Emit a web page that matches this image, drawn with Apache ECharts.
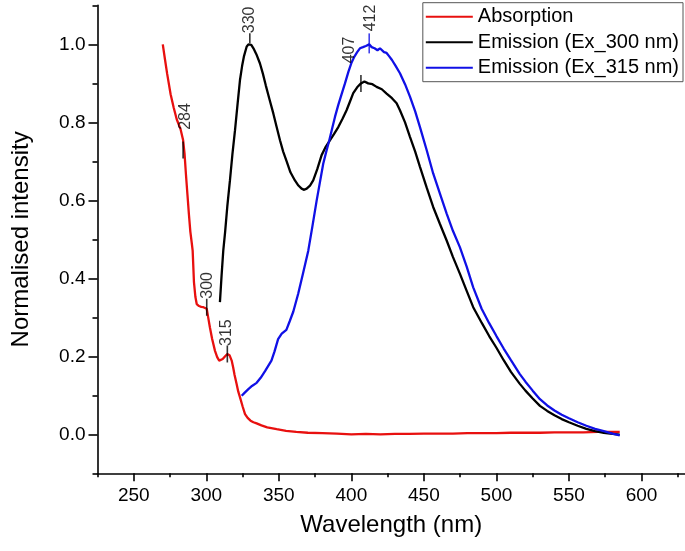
<!DOCTYPE html>
<html>
<head>
<meta charset="utf-8">
<script src="https://cdn.jsdelivr.net/npm/echarts@6/dist/echarts.min.js"></script>
<style>
html,body{margin:0;padding:0;background:#fff;}
#chart{width:685px;height:551px;}
</style>
</head>
<body>
<div id="chart"></div>
<script>
// ---- data ----
var absX = [270, 271.5, 273, 275.4, 277.5, 279.6, 282.3, 284, 285, 286, 287, 288, 289, 290, 290.6, 291.5, 292.5, 293.4, 295, 296.5, 298, 299.3, 300.3, 301.3, 302.5, 304, 306, 307.5, 308.9, 310, 311.3, 313, 314.5, 316, 317.5, 318.5, 319.5, 320.9, 322, 323.3, 325, 326.7, 328.5, 330.5, 332.5, 334.7, 338, 342, 348.5, 355, 362, 370, 380, 390, 400, 410, 420, 430, 440, 450, 460, 470, 480, 490, 500, 510, 520, 530, 540, 550, 560, 570, 580, 585];
var absY = [1.0, 0.962, 0.925, 0.872, 0.838, 0.808, 0.782, 0.755, 0.72, 0.665, 0.615, 0.565, 0.52, 0.49, 0.471, 0.39, 0.352, 0.334, 0.329, 0.327, 0.326, 0.325, 0.322, 0.3, 0.274, 0.245, 0.214, 0.198, 0.189, 0.188, 0.193, 0.2, 0.206, 0.203, 0.189, 0.172, 0.152, 0.129, 0.11, 0.094, 0.072, 0.052, 0.042, 0.035, 0.031, 0.028, 0.023, 0.018, 0.013, 0.009, 0.006, 0.004, 0.003, 0.002, 0.0, 0.001, 0.0, 0.001, 0.001, 0.002, 0.002, 0.002, 0.003, 0.003, 0.003, 0.004, 0.004, 0.004, 0.005, 0.005, 0.005, 0.006, 0.006, 0.006];

var em300X = [309.4, 310.5, 311.7, 313, 314.5, 316.3, 318, 319.8, 321.5, 323.2, 324.7, 326, 327.8, 329, 330, 331, 332.5, 334.5, 337, 339, 341, 343.5, 346.2, 348.5, 350.8, 353, 355.4, 358, 361.1, 363.5, 365.7, 367.5, 369.2, 371.5, 373.7, 376.5, 379.5, 382, 385.2, 388, 391, 394, 396.7, 399, 401.3, 404, 406.6, 409, 411.6, 414.5, 417.4, 421, 424.3, 428, 431.2, 433.5, 437, 440.4, 444, 447.3, 452, 456.4, 461, 465.7, 470, 474.8, 479.5, 484, 490, 495, 500, 505, 510, 516, 520, 525, 530, 535, 540, 545, 550, 556, 562, 568, 574, 580, 585];
var em300Y = [0.339, 0.405, 0.471, 0.52, 0.585, 0.651, 0.718, 0.78, 0.845, 0.908, 0.945, 0.97, 0.994, 1.0, 1.003, 0.999, 0.99, 0.975, 0.951, 0.925, 0.895, 0.86, 0.823, 0.788, 0.754, 0.725, 0.70, 0.672, 0.651, 0.638, 0.63, 0.627, 0.63, 0.638, 0.651, 0.68, 0.716, 0.735, 0.754, 0.77, 0.788, 0.81, 0.831, 0.853, 0.875, 0.89, 0.90, 0.905, 0.90, 0.898, 0.891, 0.885, 0.874, 0.862, 0.849, 0.831, 0.80, 0.763, 0.725, 0.686, 0.632, 0.583, 0.54, 0.497, 0.455, 0.412, 0.368, 0.326, 0.285, 0.252, 0.222, 0.19, 0.16, 0.13, 0.112, 0.092, 0.073, 0.06, 0.049, 0.039, 0.031, 0.022, 0.014, 0.008, 0.004, 0.001, -0.001];

var em315X = [324.4, 326.5, 329, 331.5, 334.7, 337.5, 340.5, 344.9, 347, 349.5, 352, 355.2, 357.5, 360, 363.3, 366.5, 370.3, 373, 376.1, 378.5, 380.6, 382.7, 384.8, 386.8, 388.7, 391, 393.5, 395.6, 398, 400, 402, 404, 405.9, 408, 410, 412.3, 414, 416, 418, 419.7, 421, 422.5, 424.3, 426, 428, 430.5, 433.5, 437, 440.4, 444, 447.3, 452, 456.4, 461, 465.7, 470, 474.8, 479.5, 484, 489.8, 495, 500, 505, 510, 516, 520, 525, 530, 535, 540, 545, 550, 556, 562, 568, 574, 580, 585];
var em315Y = [0.099, 0.107, 0.116, 0.124, 0.132, 0.145, 0.162, 0.189, 0.212, 0.244, 0.258, 0.268, 0.29, 0.315, 0.36, 0.41, 0.471, 0.53, 0.6, 0.65, 0.694, 0.725, 0.754, 0.785, 0.814, 0.845, 0.875, 0.9, 0.93, 0.952, 0.968, 0.98, 0.99, 0.993, 0.996, 1.0, 0.993, 0.99, 0.985, 0.99, 0.988, 0.98, 0.978, 0.97, 0.96, 0.945, 0.926, 0.898, 0.866, 0.828, 0.788, 0.728, 0.669, 0.618, 0.566, 0.522, 0.48, 0.43, 0.377, 0.322, 0.285, 0.252, 0.22, 0.19, 0.155, 0.135, 0.112, 0.09, 0.074, 0.061, 0.05, 0.041, 0.031, 0.022, 0.014, 0.008, 0.002, -0.003];

// peak annotations
var annX = [284, 300.3, 314.5, 330, 406.6, 412.3];
var annY = [0.755, 0.322, 0.206, 1.003, 0.90, 1.0];
var annText = ['284', '300', '315', '330', '407', '412'];

// tick labels
var xMajor = [250, 300, 350, 400, 450, 500, 550, 600];
var xMinor = [225, 275, 325, 375, 425, 475, 525, 575, 625];
var yMajor = [0.0, 0.2, 0.4, 0.6, 0.8, 1.0];
var yMinor = [-0.1, 0.1, 0.3, 0.5, 0.7, 0.9, 1.1];

var seriesNames = ['Absorption', 'Emission (Ex_300 nm)', 'Emission (Ex_315 nm)'];

// ---- styles (not data) ----
var FONT = '"Liberation Sans", Arial, sans-serif';
var colors = ['#e8100f', '#000000', '#1010e6'];
var annTick = [ {h:17, dy:10, c:'#000'}, {h:17, dy:-1.5, c:'#000'}, {h:17, dy:0, c:'#000'},
                {h:10, dy:-5, c:'#000'}, {h:17, dy:0, c:'#000'}, {h:20, dy:-1, c:'#1010e6'} ];
var annLab = [ {d:10, dx:3}, {d:10, dx:1}, {d:8, dx:-1}, {d:10, dx:0}, {d:20, dx:-11}, {d:13, dx:1} ];

function zip(a, b) { return a.map(function (v, i) { return [v, b[i]]; }); }

var lineData = [zip(absX, absY), zip(em300X, em300Y), zip(em315X, em315Y)];

var series = lineData.map(function (d, i) {
  return {
    name: seriesNames[i], type: 'line', data: d, symbol: 'none', showSymbol: false,
    lineStyle: { color: colors[i], width: 2.3 }, itemStyle: { color: colors[i] },
    z: 2 + i, xAxisIndex: 0, yAxisIndex: 0
  };
});

series.push({
  name: 'annTicks', type: 'scatter', xAxisIndex: 0, yAxisIndex: 0, z: 10, silent: true,
  data: annX.map(function (x, i) {
    return { value: [x, annY[i]], symbol: 'rect', symbolSize: [1.6, annTick[i].h],
             symbolOffset: [0, annTick[i].dy], itemStyle: { color: annTick[i].c } };
  })
});
series.push({
  name: 'annLabels', type: 'scatter', xAxisIndex: 0, yAxisIndex: 0, z: 11, silent: true,
  symbol: 'circle', symbolSize: 0.1, itemStyle: { color: 'rgba(0,0,0,0)' },
  data: annX.map(function (x, i) {
    return { value: [x, annY[i]],
      label: { show: true, formatter: annText[i], position: 'top', distance: annLab[i].d,
               offset: [0, annLab[i].dx], rotate: 90, align: 'left', verticalAlign: 'middle',
               fontSize: 16, color: '#000', fontFamily: FONT } };
  })
});

var tickLine = { color: '#000', width: 1.6 };

var option = {
  backgroundColor: '#fff',
  animation: false,
  grid: { left: 97.5, right: 0, top: 5.4, bottom: 77.7, containLabel: false },
  legend: {
    data: seriesNames, orient: 'vertical', right: 2, top: 2.7,
    itemWidth: 47, itemHeight: 20, itemGap: 5.5,
    padding: [4, 4, 4, 3],
    borderColor: '#555', borderWidth: 1, backgroundColor: '#fff',
    textStyle: { fontSize: 20, color: '#000', fontFamily: FONT, lineHeight: 20 },
    icon: 'path://M0,9 L47,9 L47,11 L0,11 Z'
  },
  xAxis: [
    { type: 'value', min: 225, max: 630, position: 'bottom',
      axisLine: { onZero: false, lineStyle: tickLine },
      axisTick: { customValues: xMajor, length: 8, lineStyle: tickLine },
      axisLabel: { customValues: xMajor, fontSize: 19, color: '#000', margin: 13, fontFamily: FONT },
      splitLine: { show: false },
      name: 'Wavelength (nm)', nameLocation: 'middle', nameGap: 40,
      nameTextStyle: { fontSize: 24, color: '#000', fontFamily: FONT } },
    { type: 'value', min: 225, max: 630, position: 'bottom',
      axisLine: { show: false, onZero: false },
      axisTick: { customValues: xMinor, length: 4, lineStyle: tickLine },
      axisLabel: { show: false }, splitLine: { show: false } }
  ],
  yAxis: [
    { type: 'value', min: -0.1, max: 1.1, position: 'left',
      axisLine: { show: true, onZero: false, lineStyle: tickLine },
      axisTick: { show: true, customValues: yMajor, length: 9, lineStyle: tickLine },
      axisLabel: { customValues: yMajor, fontSize: 19, color: '#000', margin: 12, fontFamily: FONT,
                   formatter: function (v) { return v.toFixed(1); } },
      splitLine: { show: false },
      name: 'Normalised intensity', nameLocation: 'middle', nameGap: 64,
      nameTextStyle: { fontSize: 24, color: '#000', fontFamily: FONT } },
    { type: 'value', min: -0.1, max: 1.1, position: 'left',
      axisLine: { show: false, onZero: false },
      axisTick: { show: true, customValues: yMinor, length: 5, lineStyle: tickLine },
      axisLabel: { show: false }, splitLine: { show: false } }
  ],
  series: series
};

var chart = echarts.init(document.getElementById('chart'), null, { renderer: 'canvas' });
chart.setOption(option);
</script>
</body>
</html>
